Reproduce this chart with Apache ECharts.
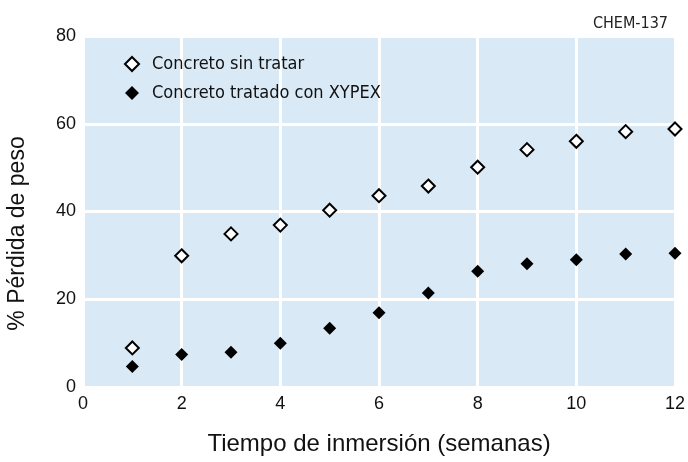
<!DOCTYPE html>
<html>
<head>
<meta charset="utf-8">
<script src="https://cdn.jsdelivr.net/npm/echarts@6/dist/echarts.min.js"></script>
<style>
  html, body { margin: 0; padding: 0; background: #fff; }
  #container { width: 688px; height: 462px; }
</style>
</head>
<body>
<div id="container"></div>
<script>
var weeks = [1, 2, 3, 4, 5, 6, 7, 8, 9, 10, 11, 12];
var untreated = [8.9, 29.9, 34.9, 36.9, 40.3, 43.6, 45.8, 50.1, 54.1, 56.0, 58.2, 58.8];
var treated = [4.7, 7.4, 7.9, 10.0, 13.4, 16.9, 21.4, 26.4, 28.1, 29.0, 30.3, 30.5];
var seriesNames = ["Concreto sin tratar", "Concreto tratado con XYPEX"];

function pairs(xs, ys) {
  return xs.map(function (x, i) { return [x, ys[i]]; });
}

var dom = document.getElementById("container");
var myChart = echarts.init(dom);

var condensed = "'DejaVu Sans Condensed', 'Roboto Condensed', Roboto, sans-serif";
var plain = "'Liberation Sans', Arial, sans-serif";

var option = {
  backgroundColor: "#fff",
  animation: false,
  title: {
    text: "CHEM-137",
    right: 15,
    top: 11,
    textStyle: { fontFamily: condensed, fontSize: 16, fontWeight: "normal", color: "#222" }
  },
  legend: {
    orient: "vertical",
    left: 119,
    top: 50,
    itemGap: 11,
    itemWidth: 14,
    itemHeight: 14,
    textStyle: { fontFamily: condensed, fontSize: 18, color: "#111", padding: [0, 0, 0, 8] },
    data: [
      { name: seriesNames[0], icon: "diamond" },
      { name: seriesNames[1], icon: "diamond" }
    ]
  },
  grid: {
    left: 83,
    right: 13,
    top: 36,
    bottom: 75,
    outerBoundsMode: "none",
    containLabel: false,
    show: true,
    backgroundColor: "#d9e9f5",
    borderWidth: 0
  },
  xAxis: {
    type: "value",
    min: 0,
    max: 12,
    interval: 2,
    name: "Tiempo de inmersión (semanas)",
    nameLocation: "middle",
    nameGap: 45,
    nameTextStyle: { fontFamily: plain, fontSize: 24, color: "#111" },
    axisLine: { show: false },
    axisTick: { show: false },
    axisLabel: { fontFamily: plain, fontSize: 18, color: "#111", margin: 8 },
    splitLine: { show: true, lineStyle: { color: "#fff", width: 3 } }
  },
  yAxis: {
    type: "value",
    min: 0,
    max: 80,
    interval: 20,
    name: "% Pérdida de peso",
    nameLocation: "middle",
    nameGap: 54,
    nameTextStyle: { fontFamily: plain, fontSize: 23, color: "#111", padding: [0, 44, 0, 0] },
    axisLine: { show: false },
    axisTick: { show: false },
    axisLabel: { fontFamily: plain, fontSize: 18, color: "#111", margin: 7 },
    splitLine: { show: true, lineStyle: { color: "#fff", width: 3 } }
  },
  series: [
    {
      name: seriesNames[0],
      type: "scatter",
      symbol: "diamond",
      symbolSize: 13,
      clip: false,
      itemStyle: { color: "#fff", borderColor: "#000", borderWidth: 2, opacity: 1 },
      data: pairs(weeks, untreated)
    },
    {
      name: seriesNames[1],
      type: "scatter",
      symbol: "diamond",
      symbolSize: 13,
      clip: false,
      itemStyle: { color: "#000", opacity: 1 },
      data: pairs(weeks, treated)
    }
  ]
};

if (option && typeof option === "object") {
  myChart.setOption(option, true);
}
</script>
</body>
</html>
